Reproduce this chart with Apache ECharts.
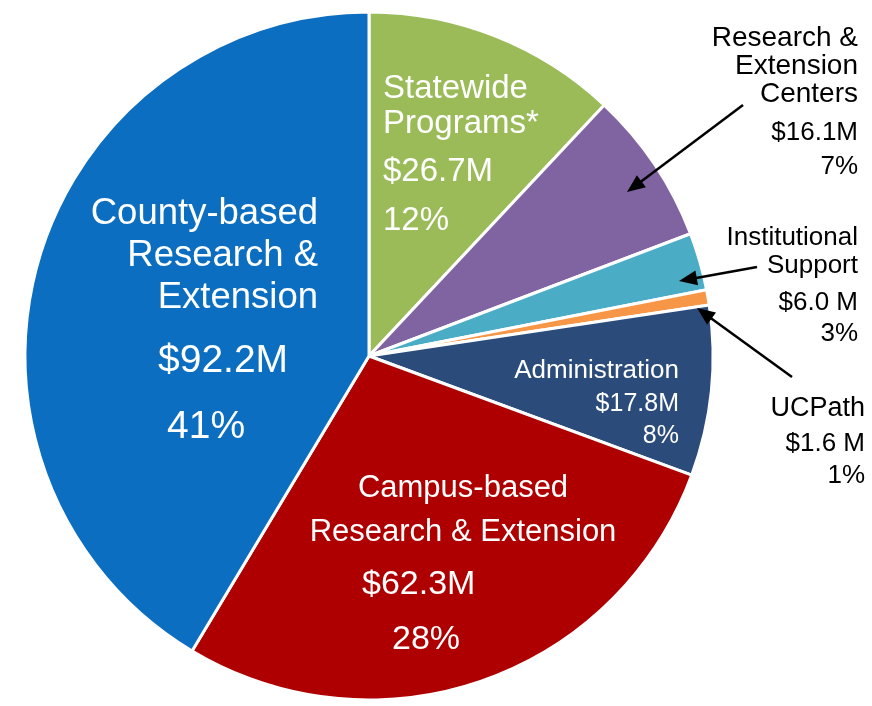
<!DOCTYPE html>
<html>
<head>
<meta charset="utf-8">
<script src="https://cdn.jsdelivr.net/npm/echarts@6/dist/echarts.min.js"></script>
<style>
  html, body { margin: 0; padding: 0; background: #fff; }
  #main { width: 872px; height: 706px; }
</style>
</head>
<body>
<div id="main"></div>
<script>
// slices, clockwise from 12 o'clock
const categories = ['Statewide Programs*', 'Research & Extension Centers', 'Institutional Support', 'UCPath', 'Administration', 'Campus-based Research & Extension', 'County-based Research & Extension'];
const amounts = [26.7, 16.1, 6.0, 1.6, 17.8, 62.3, 92.2];
const amountLabels = ['$26.7M', '$16.1M', '$6.0 M', '$1.6 M', '$17.8M', '$62.3M', '$92.2M'];
const percents = [12, 7, 3, 1, 8, 28, 41];
const nameLines = [
  ['Statewide', 'Programs*'],
  ['Research &', 'Extension', 'Centers'],
  ['Institutional', 'Support'],
  ['UCPath'],
  ['Administration'],
  ['Campus-based', 'Research & Extension'],
  ['County-based', 'Research &', 'Extension']
];
const colors = ['#9BBB59', '#8064A2', '#4BACC6', '#F79646', '#2B4C7A', '#AE0000', '#0B6EC0'];

const FONT = 'Liberation Sans, Arial, sans-serif';

// label placement for each slice: x, align, color, font sizes, y of every line
const layout = [
  { x: 383, align: 'left', fill: '#fff', size: 33, numSize: 33, ys: [89, 124, 172, 221] },
  { x: 858, align: 'right', fill: '#000', size: 28, numSize: 26, ys: [38, 66, 94, 133, 167] },
  { x: 858, align: 'right', fill: '#000', size: 26, numSize: 26, ys: [238, 266, 303, 334] },
  { x: 865, align: 'right', fill: '#000', size: 27, numSize: 26, ys: [409, 444, 476] },
  { x: 679, align: 'right', fill: '#fff', size: 26, numSize: 25, ys: [371, 404, 436] },
  { x: 463, align: 'center', fill: '#fff', size: 31, numSize: 34, ys: [488, 532, 585, 640], numX: [362, 392], numAlign: 'left' },
  { x: 318, align: 'right', fill: '#fff', size: 36.5, numSize: 39, ys: [214, 256, 298, 361, 427], numX: [158, 167], numAlign: 'left' }
];

// arrows for the small outside labels: [fromX, fromY, tipX, tipY]
const arrows = [
  [743, 105, 627, 192],
  [757, 267, 679, 281],
  [792, 377, 697, 308]
];

const graphics = [];
categories.forEach(function (name, i) {
  const L = layout[i];
  const lines = nameLines[i].concat([amountLabels[i], percents[i] + '%']);
  lines.forEach(function (t, j) {
    const isNum = j >= nameLines[i].length;
    let x = L.x, align = L.align;
    if (isNum && L.numX) {
      x = L.numX[j - nameLines[i].length];
      align = L.numAlign;
    }
    graphics.push({
      type: 'text',
      x: x,
      y: L.ys[j],
      z: 100,
      silent: true,
      style: {
        text: t,
        fill: L.fill,
        font: (isNum ? L.numSize : L.size) + 'px ' + FONT,
        textAlign: align,
        textVerticalAlign: 'middle'
      }
    });
  });
});

arrows.forEach(function (a) {
  const dx = a[2] - a[0], dy = a[3] - a[1];
  const len = Math.sqrt(dx * dx + dy * dy);
  const ux = dx / len, uy = dy / len;
  const hl = 18, hw = 7.5;
  const bx = a[2] - ux * hl, by = a[3] - uy * hl;
  graphics.push({
    type: 'line',
    z: 100,
    silent: true,
    shape: { x1: a[0], y1: a[1], x2: bx + ux * 2, y2: by + uy * 2 },
    style: { stroke: '#000', lineWidth: 2.5 }
  });
  graphics.push({
    type: 'polygon',
    z: 100,
    silent: true,
    shape: {
      points: [
        [a[2], a[3]],
        [bx - uy * hw, by + ux * hw],
        [bx + uy * hw, by - ux * hw]
      ]
    },
    style: { fill: '#000' }
  });
});

const chart = echarts.init(document.getElementById('main'), null, { renderer: 'canvas' });
chart.setOption({
  animation: false,
  backgroundColor: '#fff',
  color: colors,
  series: [{
    type: 'pie',
    center: [369, 356],
    radius: 344,
    startAngle: 90,
    clockwise: true,
    silent: true,
    label: { show: false },
    labelLine: { show: false },
    itemStyle: { borderColor: '#fff', borderWidth: 3 },
    data: categories.map(function (n, i) { return { name: n, value: amounts[i] }; })
  }],
  graphic: graphics
});
</script>
</body>
</html>
